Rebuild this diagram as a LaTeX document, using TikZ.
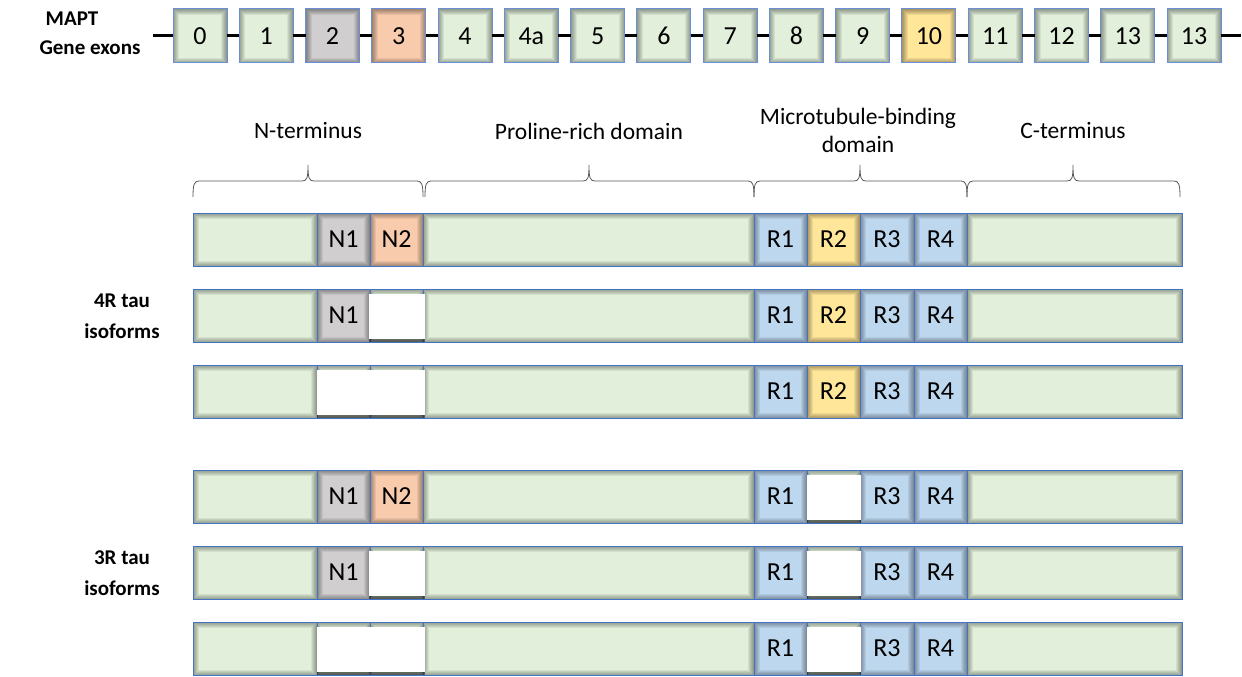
\documentclass[tikz,border=0pt]{standalone}
\usepackage{fontspec}
\setmainfont{Carlito}
\usetikzlibrary{shadows}
\definecolor{cgreen}{HTML}{E2EFDA}
\definecolor{cgray}{HTML}{D0CECE}
\definecolor{corange}{HTML}{F8CBAD}
\definecolor{cyellow}{HTML}{FFE699}
\definecolor{cblue}{HTML}{BDD7EE}
\definecolor{cborder}{HTML}{4472C4}
\definecolor{cexborder}{HTML}{6A8FD8}
\tikzset{
  vignette/.style={path picture={
    \foreach \w in {2,4,6,8,10,12}
      \draw[black, opacity=0.065, line width=\w pt] ([yshift=-0.8pt]path picture bounding box.south west) rectangle (path picture bounding box.north east);
  }},
  seg/.style={vignette, draw=cborder, line width=1pt, inner sep=0pt, outer sep=0pt,
    minimum height=53pt, font=\fontsize{26}{30}\selectfont},
  exon/.style={vignette, draw=cexborder, line width=1pt, inner sep=0pt, outer sep=0pt,
    minimum width=54pt, minimum height=54pt, font=\fontsize{26}{30}\selectfont},
  gap/.style={fill=white, draw=none, inner sep=0pt, outer sep=0pt, minimum height=45pt,
    drop shadow={shadow xshift=0pt, shadow yshift=-2.5pt, fill=black, opacity=0.45}},
  exline/.style={line width=3pt, black},
  domlabel/.style={font=\fontsize{23.5}{28}\selectfont, align=center, inner sep=0pt},
  sidelabel/.style={font=\bfseries\fontsize{21}{31}\selectfont, align=center, inner sep=0pt},
  bracestyle/.style={draw=black!65, line width=0.8pt},
}
\newcommand\isorow[4]{%
  \node[seg, fill=cgreen, minimum width=124pt] (#1g1) at (255,#2) {};
  \ifnum#3>0 \node[seg, fill=cgray, minimum width=53pt] (#1n1) at (343.5,#2) {N1};
  \else \node[seg, fill=cgreen, minimum width=53pt] (#1n1) at (343.5,#2) {};\fi
  \ifnum#3>1 \node[seg, fill=corange, minimum width=53pt] (#1n2) at (396.5,#2) {N2};
  \else \node[seg, fill=cgreen, minimum width=53pt] (#1n2) at (396.5,#2) {};\fi
  \node[seg, fill=cgreen, minimum width=331pt] (#1g2) at (588.5,#2) {};
  \node[seg, fill=cblue, minimum width=53pt] (#1r1) at (780.5,#2) {R1};
  \ifnum#4>3 \node[seg, fill=cyellow, minimum width=53pt] (#1r2) at (833.5,#2) {R2};
  \else \node[seg, fill=cgreen, minimum width=53pt] (#1r2) at (833.5,#2) {};\fi
  \node[seg, fill=cblue, minimum width=54pt] (#1r3) at (887,#2) {R3};
  \node[seg, fill=cblue, minimum width=53pt] (#1r4) at (940.5,#2) {R4};
  \node[seg, fill=cgreen, minimum width=215pt] (#1g3) at (1074.5,#2) {};
  \ifnum#3=1 \node[gap, minimum width=56pt] (#1wn) at (397,#2+1) {};\fi
  \ifnum#3=0 \node[gap, minimum width=108pt] (#1wn) at (371,#2+1) {};\fi
  \ifnum#4=3 \node[gap, minimum width=54pt] (#1wr) at (834,#2+1) {};\fi
}
\newcommand\mybrace[3]{%
  \draw[bracestyle] (#1,197) .. controls (#1,185) and (#1+1,181) .. (#1+6,181)
    -- (#2-6,181) .. controls (#2-1,181) and (#2,178) .. (#2,165)
    .. controls (#2,178) and (#2+1,181) .. (#2+6,181)
    -- (#3-6,181) .. controls (#3-1,181) and (#3,185) .. (#3,197);
}
\begin{document}
\begin{tikzpicture}[x=1pt,y=-1pt]
\path[use as bounding box, fill=white] (0,0) rectangle (1242,677);
% gene exons
\node[sidelabel] (mapt) at (72,19) {MAPT};
\node[sidelabel] (geneex) at (90,48) {Gene exons};
\coordinate (lstart) at (153,36);
\coordinate (lend) at (1241,36);
\foreach \lab/\col [count=\i from 0] in {0/cgreen,1/cgreen,2/cgray,3/corange,4/cgreen,4a/cgreen,5/cgreen,6/cgreen,7/cgreen,8/cgreen,9/cgreen,10/cyellow,11/cgreen,12/cgreen,13/cgreen,13/cgreen}
  \node[exon, fill=\col] (e\i) at ({200+66.27*\i},36) {\lab};
\draw[exline] (lstart) -- (e0);
\foreach \i [count=\j from 1] in {0,...,14}
  \draw[exline] (e\i) -- (e\j);
\draw[exline] (e15) -- (lend);
% domain labels and braces
\node[domlabel] (nterm) at (308,131) {N-terminus};
\node[domlabel] (prd) at (589,131) {Proline-rich domain};
\node[domlabel] (mbd) at (858,130) {Microtubule-binding\\domain};
\node[domlabel] (cterm) at (1073,131) {C-terminus};
\mybrace{193}{308}{423}
\mybrace{425}{589}{754}
\mybrace{754}{860}{967}
\mybrace{967}{1073}{1180}
% isoforms
\isorow{a}{239.5}{2}{4}
\isorow{b}{315.5}{1}{4}
\isorow{c}{391.5}{0}{4}
\isorow{d}{496.5}{2}{3}
\isorow{f}{572.5}{1}{3}
\isorow{g}{648.5}{0}{3}
\node[sidelabel] (fourr) at (122,316) {4R tau\\isoforms};
\node[sidelabel] (threer) at (122,573) {3R tau\\isoforms};
\end{tikzpicture}
\end{document}
